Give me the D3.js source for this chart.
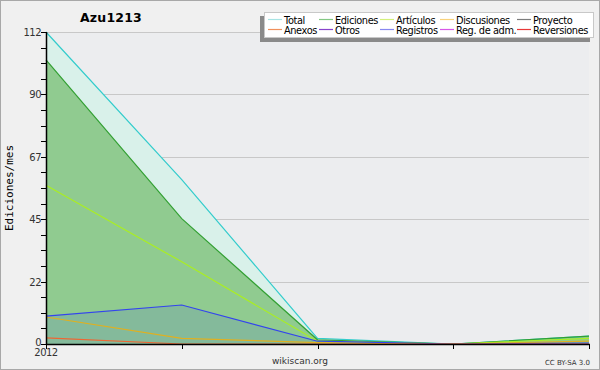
<!DOCTYPE html>
<html><head><meta charset="utf-8">
<script src="https://cdn.jsdelivr.net/npm/d3@7"></script>
<style>body{margin:0;background:#fff}svg{display:block}</style>
</head><body>
<svg id="c" width="600" height="370"></svg>
<script>
const months = ["2012", "", "", "", ""];
const total = [112, 59, 2, 0, 2.8];
const ediciones = [102, 45, 1.5, 0, 2.8];
const articulos = [57, 29.5, 1, 0, 2];
const discusiones = [9.7, 2, 0.5, 0, 1];
const registros = [10, 14, 1, 0, 0.3];
const anexos = [2.2, 0, 0, 0, 0];
const yTicks = [0, 22.4, 44.8, 67.2, 89.6, 112];
const legendNames = ["Total","Ediciones","Artículos","Discusiones","Proyecto","Anexos","Otros","Registros","Reg. de adm.","Reversiones"];
const legendColors = ["#a8e4e4","#84c884","#d4f07c","#f8d27c","#7c7c7c","#f0905c","#8844cc","#8888f0","#d858e8","#e83838"];

const svg = d3.select("#c");
svg.append("rect").attr("x",0.5).attr("y",0.5).attr("width",599).attr("height",369).attr("fill","#f0f0f0").attr("stroke","#a8a8a8");

const L=46,R=589,T=32,B=344;
const x = d3.scaleLinear().domain([0,4]).range([L,R]);
const y = d3.scaleLinear().domain([0,112]).range([B,T]);

svg.append("rect").attr("x",L).attr("y",T).attr("width",R-L).attr("height",B-T).attr("fill","#ecedef");

// grid
svg.append("g").selectAll("line").data(yTicks.slice(1)).join("line")
 .attr("x1",L).attr("x2",R).attr("y1",d=>Math.round(y(d))+0.5).attr("y2",d=>Math.round(y(d))+0.5)
 .attr("stroke","#c8c8c8");

const idx = d3.range(5);
const area = arr => d3.area().x(i=>x(i)).y0(B).y1(i=>y(arr[i]))(idx);
const line = arr => d3.line().x(i=>x(i)).y(i=>y(arr[i]))(idx);

svg.append("path").attr("d",area(total)).attr("fill","#d9f1ea");
svg.append("path").attr("d",area(ediciones)).attr("fill","#90cb90");
svg.append("path").attr("d",area(registros)).attr("fill","#3344ee").attr("fill-opacity",0.12);

const series = [
 [total,"#33cccc"],[ediciones,"#33a033"],[articulos,"#aaee22"],
 [discusiones,"#e0b020"],[registros,"#3344ee"],[anexos,"#ee6633"]
];
series.forEach(([a,c])=>svg.append("path").attr("d",line(a)).attr("fill","none").attr("stroke",c).attr("stroke-width",1.2));

// axes
const gy = svg.append("g");
gy.append("line").attr("x1",L+0.5).attr("x2",L+0.5).attr("y1",T).attr("y2",B+1).attr("stroke","#000").attr("stroke-width",1.5);
const minor = d3.range(0,113,5.6);
gy.selectAll(".mt").data(minor).join("line").attr("x1",L-5).attr("x2",L).attr("y1",d=>Math.round(y(d))+0.5).attr("y2",d=>Math.round(y(d))+0.5).attr("stroke","#000");
gy.selectAll("text").data(yTicks).join("text").attr("x",L-5).attr("y",d=>y(d)+(d===0?2:4))
 .attr("text-anchor","end").attr("font-family","DejaVu Sans").attr("font-size",10).attr("fill","#333")
 .attr("letter-spacing","-0.5").text(d=>Math.round(d));
const gx = svg.append("g");
gx.append("line").attr("x1",L).attr("x2",R+1).attr("y1",B+0.5).attr("y2",B+0.5).attr("stroke","#000").attr("stroke-width",1.5);
gx.selectAll("line.t").data(idx).join("line").attr("class","t").attr("x1",i=>Math.round(x(i))+0.5).attr("x2",i=>Math.round(x(i))+0.5).attr("y1",B).attr("y2",B+5).attr("stroke","#000");
gx.selectAll("text").data(idx).join("text").attr("x",i=>x(i)).attr("y",B+12).attr("text-anchor","middle")
 .attr("font-family","DejaVu Sans").attr("font-size",10).attr("fill","#333").attr("letter-spacing","-0.5").text(i=>months[i]);

svg.append("text").attr("transform","translate(13,188) rotate(-90)").attr("text-anchor","middle")
 .attr("font-family","DejaVu Sans Mono").attr("font-size",11).attr("fill","#000").text("Ediciones/mes");
svg.append("text").attr("x",111).attr("y",22).attr("text-anchor","middle").attr("font-family","DejaVu Sans").attr("font-weight","bold")
 .attr("font-size",12.5).attr("letter-spacing","0.2").text("Azu1213");
svg.append("text").attr("x",300).attr("y",364).attr("text-anchor","middle").attr("font-family","DejaVu Sans").attr("font-size",9).attr("fill","#333").text("wikiscan.org");
svg.append("text").attr("x",590).attr("y",365).attr("text-anchor","end").attr("font-family","DejaVu Sans").attr("font-size",7).attr("fill","#333").text("CC BY-SA 3.0");

// legend
const lg = svg.append("g");
lg.append("rect").attr("x",260).attr("y",16).attr("width",330).attr("height",26).attr("fill","#8a8a8a");
lg.append("rect").attr("x",264.5).attr("y",12.5).attr("width",329).attr("height",25).attr("fill","#fff").attr("stroke","#c8c8c8");
const colX = [268,319,380,440,517];
legendNames.forEach((n,i)=>{
  const c=i%5, r=Math.floor(i/5);
  const yy = 19.5 + r*10;
  lg.append("line").attr("x1",colX[c]).attr("x2",colX[c]+14).attr("y1",yy).attr("y2",yy).attr("stroke",legendColors[i]).attr("stroke-width",1.2);
  lg.append("text").attr("x",colX[c]+16).attr("y",yy+4).attr("font-family","DejaVu Sans").attr("font-size",9.8).attr("fill","#000").attr("letter-spacing","-0.4").text(n);
});
</script>
</body></html>
